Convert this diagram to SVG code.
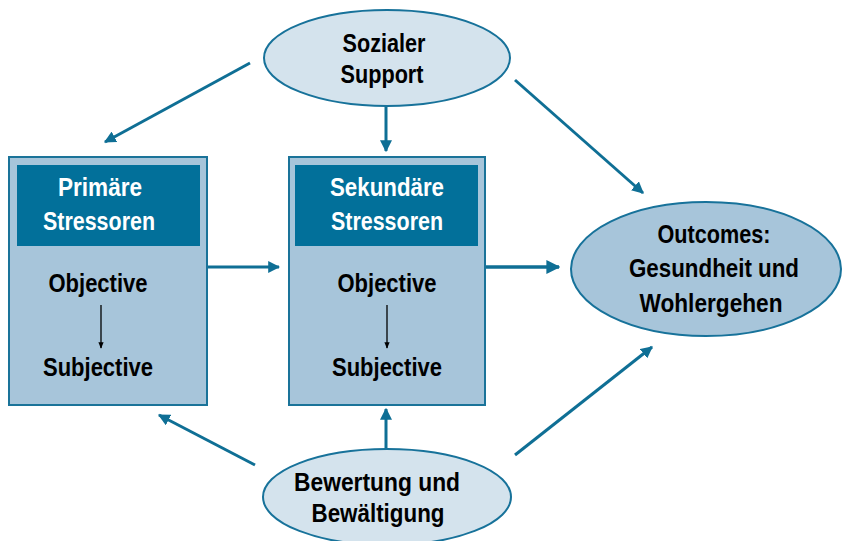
<svg xmlns="http://www.w3.org/2000/svg" width="842" height="541" viewBox="0 0 842 541">
<style>
.box{fill:#a7c5da;stroke:#1a7399;stroke-width:2}
.hdr{fill:#02709a}
.ell{fill:#d4e3ed;stroke:#17729a;stroke-width:2}
.out{fill:#a7c5da;stroke:#17729a;stroke-width:2}
text{font-family:"Liberation Sans",Arial,sans-serif;font-size:26px;font-weight:bold;text-anchor:middle}
.w{fill:#ffffff}
.k{fill:#000000}
.con{stroke:#0f6f95;stroke-width:3;fill:none;marker-end:url(#ah)}
.thick{stroke-width:3.5}
.thin{stroke:#000;stroke-width:1.3;fill:none;marker-end:url(#sh)}
</style>
<defs>
<marker id="ah" viewBox="0 0 10 10" refX="9" refY="5" markerWidth="4" markerHeight="4" orient="auto" markerUnits="strokeWidth">
<path d="M0,0 L10,5 L0,10 z" fill="#0f6f95"/>
</marker>
<marker id="sh" viewBox="0 0 10 10" refX="9" refY="5" markerWidth="5" markerHeight="5" orient="auto" markerUnits="strokeWidth">
<path d="M0,1 L10,5 L0,9 z" fill="#000"/>
</marker>
</defs>
<rect width="842" height="541" fill="#ffffff"/>
<g id="connectors">
<line class="con" x1="250" y1="63" x2="105" y2="142"/>
<line class="con" x1="386" y1="106" x2="386" y2="151"/>
<line class="con" x1="515" y1="80" x2="643" y2="193"/>
<line class="con" x1="207" y1="267" x2="279" y2="267"/>
<line class="con thick" x1="486" y1="267" x2="559" y2="267"/>
<line class="con" x1="255" y1="465" x2="159" y2="415"/>
<line class="con" x1="386" y1="449" x2="386" y2="409"/>
<line class="con" x1="515" y1="455" x2="652" y2="347"/>
</g>
<g id="primaere">
<rect class="box" x="9" y="157" width="198" height="248"/>
<rect class="hdr" x="17" y="165" width="183" height="81"/>
<text class="w" x="100" y="196" textLength="84" lengthAdjust="spacingAndGlyphs">Primäre</text>
<text class="w" x="99" y="230" textLength="112" lengthAdjust="spacingAndGlyphs">Stressoren</text>
<text class="k" x="98" y="292" textLength="99" lengthAdjust="spacingAndGlyphs">Objective</text>
<line class="thin" x1="101" y1="305" x2="101" y2="348"/>
<text class="k" x="98" y="376" textLength="110" lengthAdjust="spacingAndGlyphs">Subjective</text>
</g>
<g id="sekundaere">
<rect class="box" x="289" y="157" width="196" height="248"/>
<rect class="hdr" x="295" y="165" width="183" height="81"/>
<text class="w" x="387" y="196" textLength="114" lengthAdjust="spacingAndGlyphs">Sekundäre</text>
<text class="w" x="387" y="230" textLength="112" lengthAdjust="spacingAndGlyphs">Stressoren</text>
<text class="k" x="387" y="292" textLength="99" lengthAdjust="spacingAndGlyphs">Objective</text>
<line class="thin" x1="387" y1="305" x2="387" y2="348"/>
<text class="k" x="387" y="376" textLength="110" lengthAdjust="spacingAndGlyphs">Subjective</text>
</g>
<g id="sozialer">
<ellipse class="ell" cx="387" cy="58" rx="123" ry="48"/>
<text class="k" x="384" y="52" textLength="83" lengthAdjust="spacingAndGlyphs">Sozialer</text>
<text class="k" x="382" y="83" textLength="83" lengthAdjust="spacingAndGlyphs">Support</text>
</g>
<g id="outcomes">
<ellipse class="out" cx="706" cy="269" rx="135" ry="67"/>
<text class="k" x="714" y="243" textLength="113" lengthAdjust="spacingAndGlyphs">Outcomes:</text>
<text class="k" x="714" y="277" textLength="170" lengthAdjust="spacingAndGlyphs">Gesundheit und</text>
<text class="k" x="711" y="312" textLength="143" lengthAdjust="spacingAndGlyphs">Wohlergehen</text>
</g>
<g id="bewertung">
<ellipse class="ell" cx="387" cy="497" rx="124" ry="48"/>
<text class="k" x="377" y="491" textLength="166" lengthAdjust="spacingAndGlyphs">Bewertung und</text>
<text class="k" x="378" y="522" textLength="133" lengthAdjust="spacingAndGlyphs">Bewältigung</text>
</g>
</svg>
